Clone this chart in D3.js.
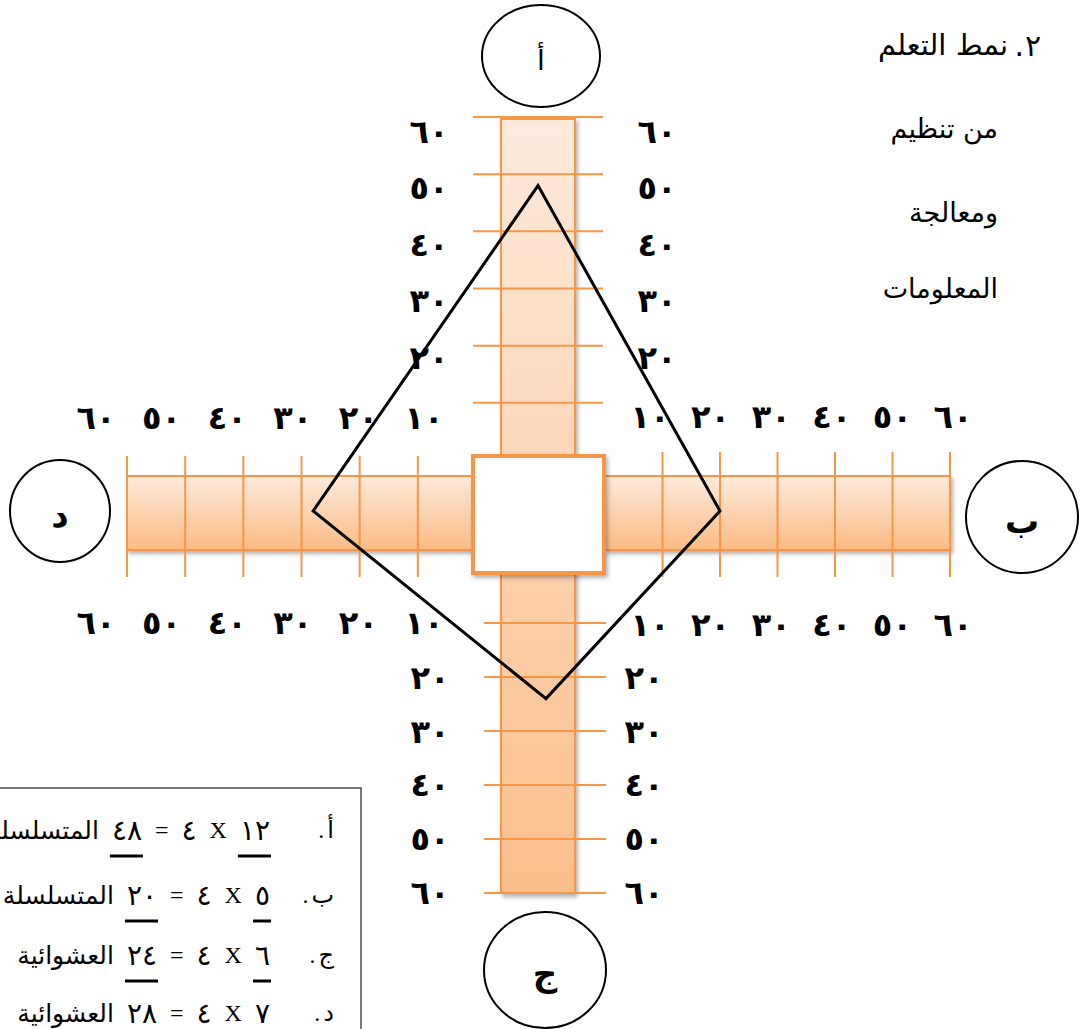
<!DOCTYPE html>
<html>
<head>
<meta charset="utf-8">
<script src="https://cdn.jsdelivr.net/npm/d3@7"></script>
<style>
  body { margin: 0; background: #fff; }
  svg { display: block; }
</style>
</head>
<body>
<svg id="chart"></svg>
<script>
// data
var armLetters = ["أ", "ب", "ج", "د"];          // top, right, bottom, left
var armValues = [48, 20, 24, 28];
var tickValues = [10, 20, 30, 40, 50, 60];
var titleLines = ["نمط التعلم", "من تنظيم", "ومعالجة", "المعلومات"];
var titleNumber = "٢";
var legendMult = [12, 5, 6, 7];
var legendFactor = 4;
var legendTypes = ["المتسلسلة", "المتسلسلة", "العشوائية", "العشوائية"];

var W = 1080, H = 1029;
var orange = "#f79646";
var arabicFont = "'DejaVu Sans', sans-serif";

function toAr(n) {
  return String(n).replace(/\d/g, function(d) { return "٠١٢٣٤٥٦٧٨٩"[d]; });
}

var svg = d3.select('#chart')
    .attr("width", W)
    .attr("height", H);

var defs = svg.append("defs");
var gv = defs.append("linearGradient").attr("id", "gradV")
    .attr("gradientUnits", "userSpaceOnUse")
    .attr("x1", 0).attr("y1", 119).attr("x2", 0).attr("y2", 893);
gv.append("stop").attr("offset", 0).attr("stop-color", "#fdeadc");
gv.append("stop").attr("offset", 1).attr("stop-color", "#fbbe8b");
var gh = defs.append("linearGradient").attr("id", "gradH")
    .attr("x1", 0).attr("y1", 0).attr("x2", 0).attr("y2", 1);
gh.append("stop").attr("offset", 0).attr("stop-color", "#fdeadb");
gh.append("stop").attr("offset", 1).attr("stop-color", "#fbbb84");
var sh = defs.append("filter").attr("id", "shadow")
    .attr("x", "-10%").attr("y", "-10%").attr("width", "130%").attr("height", "130%");
sh.append("feDropShadow").attr("dx", 2).attr("dy", 3).attr("stdDeviation", 2)
    .attr("flood-color", "#000").attr("flood-opacity", 0.3);

// center and the four arm scales (0 at the edge of the central square)
var cx = 538, cy = 513;
var yTop = d3.scaleLinear().domain([0, 60]).range([460, 117]);
var yBot = d3.scaleLinear().domain([0, 60]).range([569, 893]);
var xLeft = d3.scaleLinear().domain([0, 60]).range([476, 127]);
var xRight = d3.scaleLinear().domain([0, 60]).range([605, 950]);

// label scales (labels are not quite on the ticks in the drawing)
var lblTopY = d3.scaleLinear().domain([10, 60]).range([414, 132]);
var lblBotY = d3.scaleLinear().domain([10, 60]).range([624, 893]);
var lblLeftX = d3.scaleLinear().domain([10, 60]).range([424, 96]);
var lblRightX = d3.scaleLinear().domain([10, 60]).range([650, 953]);

var barHalf = 37;

// vertical bar
svg.append("rect")
    .attr("x", cx - barHalf).attr("y", yTop(60) + 2)
    .attr("width", barHalf * 2).attr("height", yBot(60) - yTop(60) - 2)
    .attr("fill", "url(#gradV)").attr("stroke", orange).attr("stroke-width", 2)
    .attr("filter", "url(#shadow)");

// horizontal bars
svg.append("rect")
    .attr("x", xLeft(60)).attr("y", cy - barHalf)
    .attr("width", xLeft(0) - xLeft(60)).attr("height", barHalf * 2)
    .attr("fill", "url(#gradH)").attr("stroke", orange).attr("stroke-width", 2)
    .attr("filter", "url(#shadow)");
svg.append("rect")
    .attr("x", xRight(0)).attr("y", cy - barHalf)
    .attr("width", xRight(60) - xRight(0)).attr("height", barHalf * 2)
    .attr("fill", "url(#gradH)").attr("stroke", orange).attr("stroke-width", 2)
    .attr("filter", "url(#shadow)");

// tick lines
var ticks = svg.append("g").attr("stroke", orange).attr("stroke-width", 2);
ticks.selectAll(".tt").data(tickValues).enter().append("line")
    .attr("x1", 473).attr("x2", 603)
    .attr("y1", function(d) { return yTop(d); })
    .attr("y2", function(d) { return yTop(d); });
ticks.selectAll(".tb").data(tickValues).enter().append("line")
    .attr("x1", 484).attr("x2", 606)
    .attr("y1", function(d) { return yBot(d); })
    .attr("y2", function(d) { return yBot(d); });
ticks.selectAll(".tl").data(tickValues).enter().append("line")
    .attr("y1", 456).attr("y2", 577)
    .attr("x1", function(d) { return xLeft(d); })
    .attr("x2", function(d) { return xLeft(d); });
ticks.selectAll(".tr").data(tickValues).enter().append("line")
    .attr("y1", 452).attr("y2", 577)
    .attr("x1", function(d) { return xRight(d); })
    .attr("x2", function(d) { return xRight(d); });

// central square
svg.append("rect")
    .attr("x", xLeft(0) - 3).attr("y", yTop(0) - 4)
    .attr("width", xRight(0) - xLeft(0) + 2).attr("height", yBot(0) - yTop(0) + 8)
    .attr("fill", "#fff").attr("stroke", orange).attr("stroke-width", 4)
    .attr("filter", "url(#shadow)");

// tick labels
var labels = svg.append("g")
    .attr("font-family", arabicFont)
    .attr("font-weight", "bold")
    .attr("font-size", 32)
    .attr("text-anchor", "middle")
    .attr("dominant-baseline", "central")
    .attr("fill", "#000");

// the 10 of the vertical arms is shared with the horizontal label rows
var vertTicks = tickValues.filter(function(d) { return d > 10; });

function addLabels(cls, vals, xf, yf) {
  labels.selectAll("." + cls).data(vals).enter().append("text")
      .attr("class", cls)
      .attr("x", xf).attr("y", yf)
      .text(function(d) { return toAr(d); });
}
addLabels("lt1", vertTicks, 429, function(d) { return lblTopY(d); });
addLabels("lt2", vertTicks, 657, function(d) { return lblTopY(d); });
addLabels("lb1", vertTicks, 430, function(d) { return lblBotY(d); });
addLabels("lb2", vertTicks, 644, function(d) { return lblBotY(d); });
addLabels("ll1", tickValues, function(d) { return lblLeftX(d); }, 418);
addLabels("ll2", tickValues, function(d) { return lblLeftX(d); }, 623);
addLabels("lr1", tickValues, function(d) { return lblRightX(d); }, 417);
addLabels("lr2", tickValues, function(d) { return lblRightX(d); }, 625);

// diamond
var pts = [
  [cx, yTop(armValues[0])],
  [xRight(armValues[1]), cy - 2],
  [cx + 8, yBot(armValues[2])],
  [xLeft(armValues[3]), cy - 2]
];
svg.append("path")
    .attr("d", d3.line()(pts) + "Z")
    .attr("fill", "none").attr("stroke", "#000").attr("stroke-width", 3)
    .attr("stroke-linejoin", "miter");

// letter circles
var circles = [
  {cx: 541, cy: 56, rx: 59, ry: 51, w: "normal", s: 28},
  {cx: 1022, cy: 517, rx: 56, ry: 56, w: "bold", s: 34},
  {cx: 545, cy: 970, rx: 61, ry: 58, w: "bold", s: 34},
  {cx: 60, cy: 511, rx: 50, ry: 51, w: "bold", s: 34}
];
var cg = svg.selectAll(".circ").data(armLetters).enter().append("g");
cg.append("ellipse")
    .attr("cx", function(d, i) { return circles[i].cx; })
    .attr("cy", function(d, i) { return circles[i].cy; })
    .attr("rx", function(d, i) { return circles[i].rx; })
    .attr("ry", function(d, i) { return circles[i].ry; })
    .attr("fill", "#fff").attr("stroke", "#000").attr("stroke-width", 2);
cg.append("text")
    .attr("x", function(d, i) { return circles[i].cx; })
    .attr("y", function(d, i) { return circles[i].cy + 4; })
    .attr("text-anchor", "middle")
    .attr("dominant-baseline", "central")
    .attr("font-family", arabicFont)
    .attr("font-weight", function(d, i) { return circles[i].w; })
    .attr("font-size", function(d, i) { return circles[i].s; })
    .text(function(d) { return d; });

// title text, top right
var tg = svg.append("g")
    .attr("font-family", arabicFont)
    .attr("font-size", 27)
    .attr("text-anchor", "end")
    .attr("dominant-baseline", "central");
tg.append("text").attr("x", 1041).attr("y", 45).attr("font-size", 30).text(titleNumber);
tg.append("text").attr("x", 1024).attr("y", 45).attr("font-size", 30).text(".");
tg.selectAll(".tl").data(titleLines).enter().append("text")
    .attr("x", function(d, i) { return i === 0 ? 1008 : 998; })
    .attr("y", function(d, i) { return [45, 128, 212, 288][i]; })
    .attr("font-size", function(d, i) { return i === 0 ? 29 : 27; })
    .attr("letter-spacing", function(d, i) { return i === 1 ? 3 : 0; })
    .text(function(d) { return d; });

// legend box, bottom left (first row runs off the left edge, as in the original)
svg.append("rect")
    .attr("x", -2).attr("y", 788).attr("width", 363).attr("height", 260)
    .attr("fill", "#fff").attr("stroke", "#222").attr("stroke-width", 1.2);

var lg = svg.append("g")
    .attr("font-family", "'Liberation Serif', 'DejaVu Sans', serif")
    .attr("font-size", 24)
    .attr("text-anchor", "end")
    .attr("dominant-baseline", "central");
var rowY = [830, 895, 955, 1013];

legendMult.forEach(function(m, i) {
  var y = rowY[i];
  var let = lg.append("text").attr("x", 334).attr("y", y)
      .attr("font-family", arabicFont)
      .text(armLetters[i]);
  var lw = let.node().getComputedTextLength();
  lg.append("text").attr("x", 334 - lw - 3).attr("y", y).text(".");
  var tokens = [
    {t: toAr(m), u: true, d: true},
    {t: "X"},
    {t: toAr(legendFactor), d: true},
    {t: "="},
    {t: toAr(m * legendFactor), u: true, d: true},
    {t: legendTypes[i], ar: true}
  ];
  var x = 270;
  tokens.forEach(function(tk) {
    var el = lg.append("text").attr("x", x).attr("y", y).text(tk.t);
    if (tk.ar) el.attr("font-family", arabicFont).attr("font-size", 25);
    if (tk.d) el.attr("font-family", arabicFont).attr("font-size", 28);
    var w = el.node().getComputedTextLength();
    if (tk.u) {
      lg.append("line")
          .attr("x1", x - w - 2).attr("x2", x + 1)
          .attr("y1", y + 26).attr("y2", y + 26)
          .attr("stroke", "#000").attr("stroke-width", 3);
    }
    x -= w + 13;
  });
});
</script>
</body>
</html>
